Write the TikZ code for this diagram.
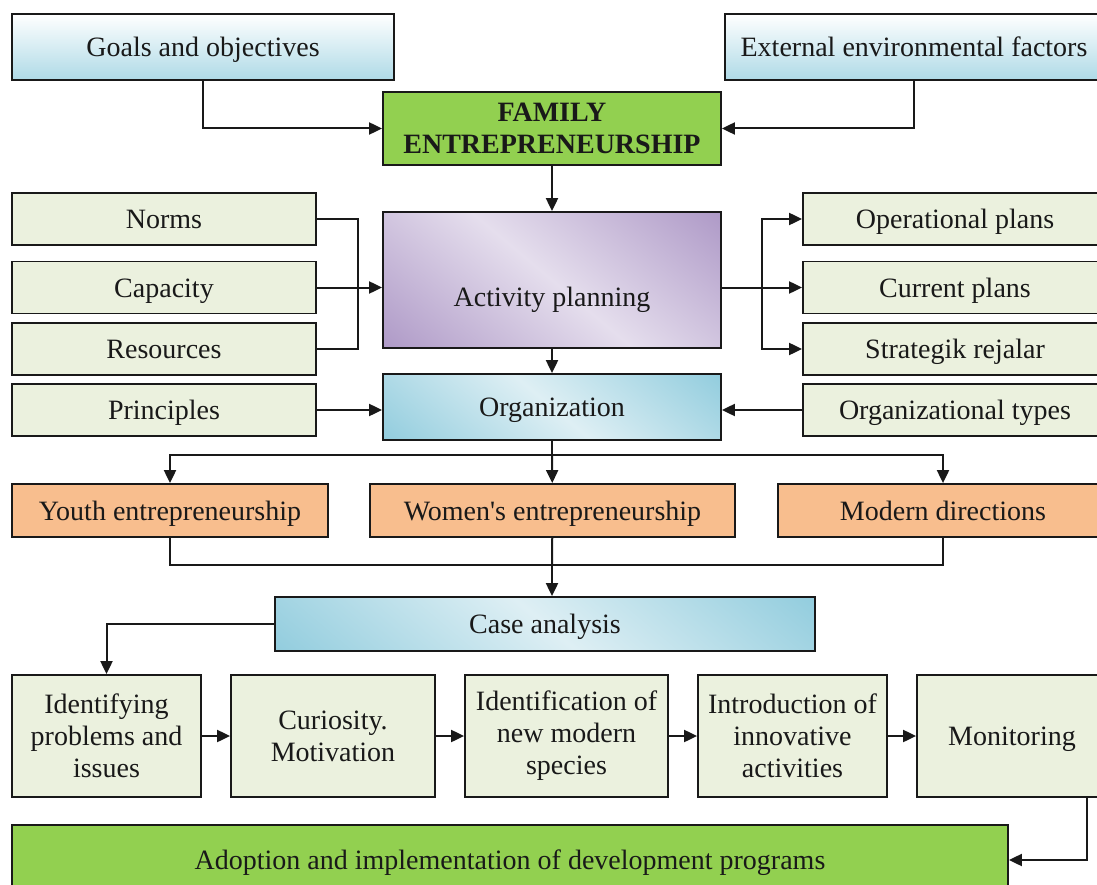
\documentclass[tikz,border=0pt]{standalone}
\usepackage{fontspec}
\setmainfont{Liberation Serif}[Ligatures=TeXOff]
\usetikzlibrary{arrows.meta,positioning,calc}
\definecolor{ink}{RGB}{25,25,25}
\definecolor{sage}{RGB}{235,241,222}
\definecolor{peach}{RGB}{248,190,142}
\definecolor{leaf}{RGB}{146,208,80}
\definecolor{skylight}{RGB}{222,239,244}
\definecolor{sky}{RGB}{140,202,220}
\definecolor{lilaclight}{RGB}{229,222,237}
\definecolor{lilac}{RGB}{170,148,196}
\pgfdeclareverticalshading{lilacglass}{100bp}{color(0bp)=(lilac); color(12bp)=(lilac);
  color(50bp)=(lilaclight); color(88bp)=(lilac); color(100bp)=(lilac)}
\pgfdeclareverticalshading{skyglass}{100bp}{color(0bp)=(sky); color(12bp)=(sky);
  color(50bp)=(skylight); color(88bp)=(sky); color(100bp)=(sky)}
\tikzset{
  every picture/.style={x=1pt, y=-1pt, line width=2pt, color=ink},
  box/.style={draw=ink, line width=1.8pt, inner sep=4pt, align=center, text=ink,
    font=\fontsize{28}{32}\selectfont},
  oneline/.style={text height=25pt, text depth=6pt},
  sagebox/.style={box, fill=sage},
  peachbox/.style={box, oneline, fill=peach, minimum height=53pt},
  leafbox/.style={box, fill=leaf},
  skybox/.style={box, oneline, top color=white, bottom color=sky!70},
  glassy/.style={box, shading=#1glass, shading angle=-40},
  side/.style={sagebox, oneline, minimum width=304pt, minimum height=52pt},
  stepbox/.style={sagebox, minimum height=122pt},
  flow/.style={-{Triangle[length=13pt,width=12pt]}, line width=2pt},
  link/.style={line width=2pt},
}

\begin{document}
\begin{tikzpicture}
  \clip (0,0) rectangle (1097,885);
  % top row
  \node[skybox, minimum width=382pt, minimum height=66pt] (goals) at (203,47) {Goals and objectives};
  \node[skybox, minimum width=378pt, minimum height=66pt] (extern) at (914,47) {External environmental factors};
  \node[leafbox, minimum width=338pt, minimum height=73pt, font=\fontsize{28}{32}\selectfont\bfseries] (family) at (552,128.5) {FAMILY\\ENTREPRENEURSHIP};
  % planning block
  \node[glassy=lilac, text height=59pt, text depth=6pt, minimum width=338pt, minimum height=136pt] (activity) at (552,280) {Activity planning};
  \node[glassy=sky, oneline, minimum width=338pt, minimum height=66pt] (org) at (552,407) {Organization};
  \node[side] (norms) at (164,219) {Norms};
  \node[side] (capacity) at (164,287.5) {Capacity};
  \node[side] (resources) at (164,349) {Resources};
  \node[side] (principles) at (164,410) {Principles};
  \node[side] (oper) at (955,219) {Operational plans};
  \node[side] (current) at (955,287.5) {Current plans};
  \node[side] (strat) at (955,349) {Strategik rejalar};
  \node[side] (orgtypes) at (955,410) {Organizational types};
  % directions
  \node[peachbox, minimum width=316pt] (youth) at (170,510.5) {Youth entrepreneurship};
  \node[peachbox, minimum width=365pt] (women) at (552.5,510.5) {Women's entrepreneurship};
  \node[peachbox, minimum width=330pt] (modern) at (943,510.5) {Modern directions};
  \node[glassy=sky, oneline, minimum width=540pt, minimum height=54pt] (case) at (545,624) {Case analysis};
  % steps
  \node[stepbox, minimum width=189pt] (s1) at (106.5,736) {Identifying\\problems and\\issues};
  \node[stepbox, minimum width=204pt] (s2) at (333,736) {Curiosity.\\Motivation};
  \node[stepbox, minimum width=203pt] (s3) at (566.5,736) {Identification of\\new modern\\species};
  \node[stepbox, minimum width=189pt] (s4) at (792.5,736) {Introduction of\\innovative\\activities};
  \node[stepbox, oneline, minimum width=190pt] (s5) at (1012,736) {Monitoring};
  \node[leafbox, oneline, minimum width=996pt, minimum height=70pt] (adopt) at (510,860) {Adoption and implementation of development programs};
  \coordinate (rsplit) at (762,283);
  \coordinate (split) at (552,455);
  \coordinate (merge) at (552,565);

  \draw[flow] (goals) |- (family);
  \draw[flow] (extern) |- (family);
  \draw[flow] (family) -- (activity);
  \draw[link] (norms.east) -- ++(41,0) |- (resources.east);
  \draw[flow] (capacity) -- (activity.west |- capacity);
  \draw[flow] (activity.east |- current) -- (current);
  \draw[flow] (rsplit |- current) |- (oper);
  \draw[flow] (rsplit |- current) |- (strat);
  \draw[flow] (activity) -- (org);
  \draw[flow] (principles) -- (org.west |- principles);
  \draw[flow] (orgtypes) -- (org.east |- orgtypes);
  \draw[link] (org) -- (split);
  \draw[flow] (split) -| (youth);
  \draw[flow] (split) -- (women);
  \draw[flow] (split) -| (modern);
  \draw[link] (youth) |- (merge) -| (modern);
  \draw[link] (women) -- (merge);
  \draw[flow] (merge) -- (merge |- case.north);
  \draw[flow] (case) -| (s1);
  \draw[flow] (s1) -- (s2);
  \draw[flow] (s2) -- (s3);
  \draw[flow] (s3) -- (s4);
  \draw[flow] (s4) -- (s5);
  \draw[flow] ([xshift=-21pt]s5.south east) |- (adopt.east);
\end{tikzpicture}
\end{document}
